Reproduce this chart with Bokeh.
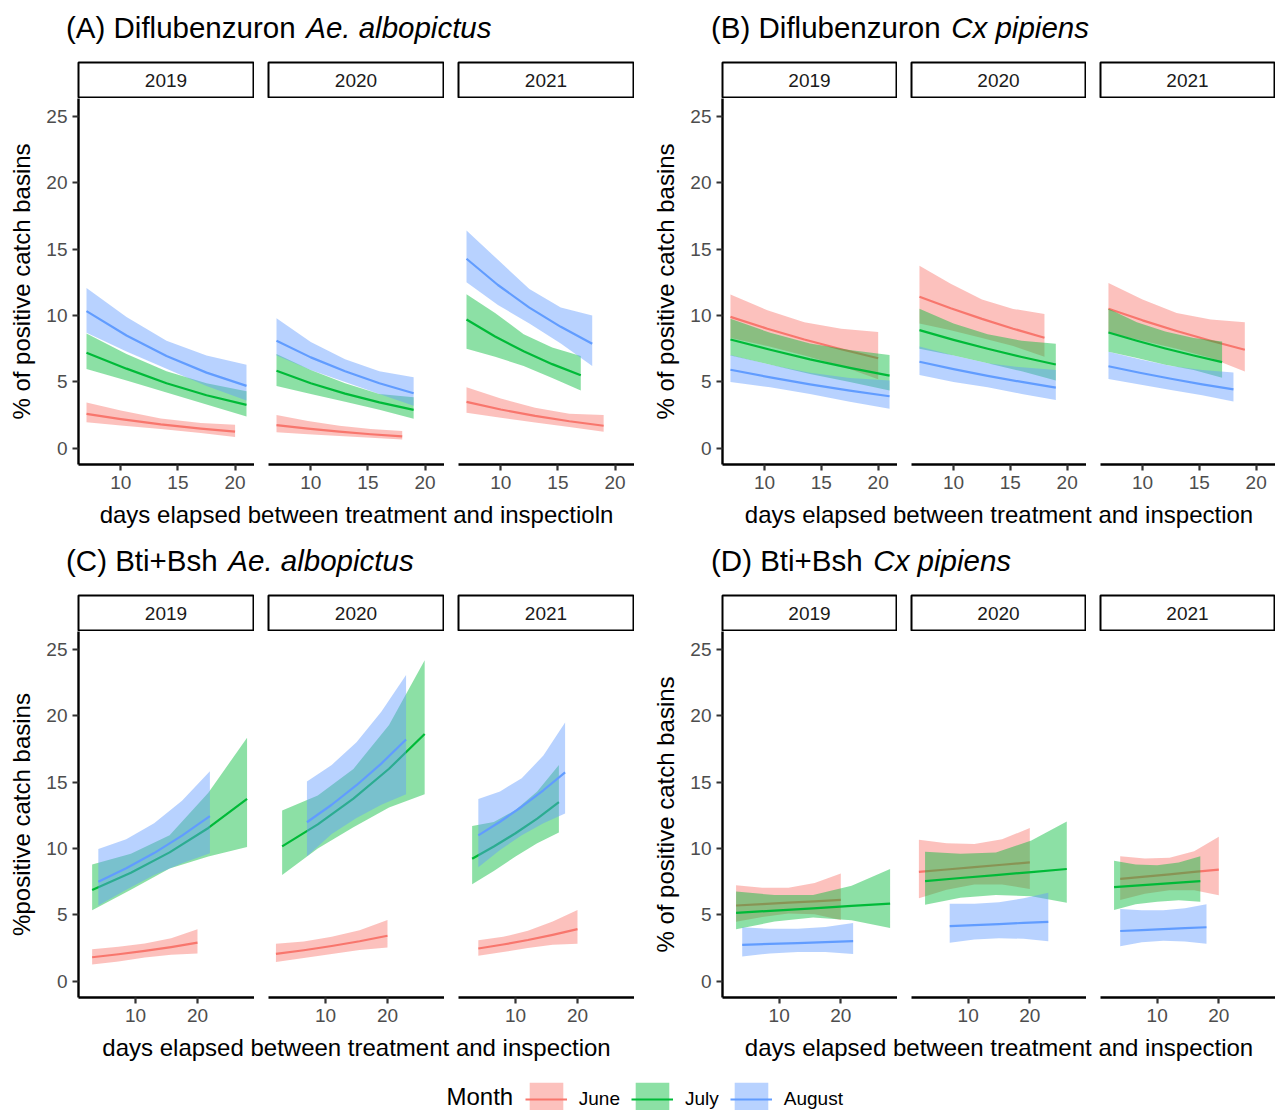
import numpy as np
from bokeh.plotting import figure
from bokeh.models import Range1d, Label, Legend, LegendItem, FixedTicker
from bokeh.layouts import row, column
from bokeh.embed import file_html
from bokeh.resources import INLINE

FONT = "Liberation Sans"
years = ["2019", "2020", "2021"]
months = ["June", "July", "August"]
month_colors = ["#F8766D", "#00BA38", "#619CFF"]
y_ticks = [0, 5, 10, 15, 20, 25]

# ---------------- Panel A: Diflubenzuron, Ae. albopictus ----------------
A_june_x = [[7, 10, 13.5, 17, 20], [7, 9.75, 12.5, 15.25, 18], [7, 10, 13, 16, 19]]
A_june_fit = [[2.6, 2.2, 1.8, 1.48, 1.25], [1.74, 1.48, 1.25, 1.06, 0.9], [3.5, 2.92, 2.44, 2.04, 1.7]]
A_june_lo = [[1.97, 1.72, 1.45, 1.15, 0.86], [1.2, 1.05, 0.92, 0.8, 0.67], [2.67, 2.3, 1.95, 1.6, 1.25]]
A_june_hi = [[3.45, 2.85, 2.25, 1.9, 1.77], [2.5, 2.05, 1.7, 1.45, 1.3], [4.6, 3.75, 3.05, 2.6, 2.5]]
A_july_x = [[7, 10.5, 14, 17.5, 21], [7, 10, 13, 16, 19], [7, 9.5, 12, 14.5, 17]]
A_july_fit = [[7.2, 6.0, 4.9, 4.0, 3.27], [5.84, 4.9, 4.12, 3.46, 2.9], [9.7, 8.42, 7.31, 6.34, 5.5]]
A_july_lo = [[5.97, 5.1, 4.2, 3.3, 2.4], [4.7, 4.1, 3.5, 2.9, 2.23], [7.5, 6.9, 6.2, 5.3, 4.36]]
A_july_hi = [[8.65, 7.1, 5.8, 4.9, 4.3], [7.1, 5.9, 4.9, 4.1, 3.85], [11.6, 10.2, 8.6, 7.6, 6.95]]
A_aug_x = [[7, 10.5, 14, 17.5, 21], [7, 10, 13, 16, 19], [7, 9.75, 12.5, 15.25, 18]]
A_aug_fit = [[10.33, 8.5, 6.95, 5.7, 4.7], [8.1, 6.85, 5.8, 4.9, 4.15], [14.28, 12.3, 10.6, 9.15, 7.87]]
A_aug_lo = [[8.7, 7.3, 6.0, 4.7, 3.6], [7.0, 5.9, 5.0, 4.1, 3.2], [12.5, 10.8, 9.4, 7.9, 6.2]]
A_aug_hi = [[12.07, 9.9, 8.1, 7.0, 6.3], [9.8, 8.0, 6.7, 5.8, 5.35], [16.4, 14.2, 12.0, 10.6, 10.0]]

# ---------------- Panel B: Diflubenzuron, Cx pipiens ----------------
B_june_x = [[7, 10.25, 13.5, 16.75, 20], [7, 9.75, 12.5, 15.25, 18], [7, 10, 13, 16, 19]]
B_june_fit = [[9.9, 9.01, 8.2, 7.46, 6.78], [11.42, 10.55, 9.75, 9.01, 8.33], [10.51, 9.64, 8.84, 8.1, 7.42]]
B_june_lo = [[8.3, 7.7, 7.0, 6.2, 5.2], [9.4, 8.9, 8.3, 7.7, 6.9], [8.7, 8.1, 7.5, 6.8, 5.79]]
B_june_hi = [[11.58, 10.4, 9.5, 9.0, 8.77], [13.76, 12.4, 11.2, 10.5, 10.12], [12.46, 11.2, 10.2, 9.7, 9.5]]
B_july_x = [[7, 10.5, 14, 17.5, 21], [7, 10, 13, 16, 19], [7, 9.5, 12, 14.5, 17]]
B_july_fit = [[8.2, 7.42, 6.7, 6.06, 5.48], [8.9, 8.17, 7.5, 6.88, 6.31], [8.72, 8.1, 7.52, 6.99, 6.49]]
B_july_lo = [[7.0, 6.3, 5.6, 5.0, 4.36], [7.5, 7.0, 6.4, 5.8, 5.1], [7.27, 6.8, 6.3, 5.9, 5.32]]
B_july_hi = [[9.76, 8.7, 7.9, 7.4, 7.03], [10.51, 9.4, 8.6, 8.1, 7.87], [10.51, 9.5, 8.8, 8.3, 8.05]]
B_aug_x = [[7, 10.5, 14, 17.5, 21], [7, 10, 13, 16, 19], [7, 9.75, 12.5, 15.25, 18]]
B_aug_fit = [[5.92, 5.34, 4.82, 4.35, 3.92], [6.52, 5.97, 5.46, 5.0, 4.57], [6.18, 5.69, 5.24, 4.82, 4.44]]
B_aug_lo = [[5.0, 4.6, 4.1, 3.5, 2.98], [5.53, 5.0, 4.6, 4.1, 3.63], [5.22, 4.8, 4.4, 4.0, 3.53]]
B_aug_hi = [[7.03, 6.3, 5.7, 5.3, 5.1], [7.66, 7.0, 6.4, 6.1, 5.9], [7.27, 6.7, 6.2, 5.9, 5.71]]

# ---------------- Panel C: Bti+Bsh, Ae. albopictus ----------------
C_june_x = [[3, 7.25, 11.5, 15.75, 20], [2, 6.5, 11, 15.5, 20], [4, 8, 12, 16, 20]]
C_june_fit = [[1.81, 2.04, 2.29, 2.58, 2.91], [2.06, 2.34, 2.66, 3.02, 3.43], [2.47, 2.77, 3.11, 3.5, 3.93]]
C_june_lo = [[1.26, 1.5, 1.8, 2.0, 2.09], [1.46, 1.75, 2.05, 2.35, 2.55], [1.92, 2.2, 2.5, 2.75, 2.83]]
C_june_hi = [[2.42, 2.6, 2.85, 3.25, 3.93], [2.83, 3.0, 3.35, 3.85, 4.62], [3.1, 3.35, 3.8, 4.5, 5.38]]
C_july_x = [[3, 9.25, 15.5, 21.75, 28], [3, 8.75, 14.5, 20.25, 26], [3, 6.5, 10, 13.5, 17]]
C_july_fit = [[6.87, 8.17, 9.71, 11.55, 13.74], [10.16, 11.82, 13.76, 16.01, 18.63], [9.23, 10.15, 11.15, 12.26, 13.49]]
C_july_lo = [[5.36, 6.9, 8.5, 9.4, 10.11], [8.0, 10.0, 11.6, 13.1, 14.09], [7.31, 8.3, 9.4, 10.4, 11.21]]
C_july_hi = [[8.79, 9.6, 11.0, 14.2, 18.35], [12.86, 14.0, 16.0, 19.3, 24.18], [11.7, 12.0, 12.9, 14.3, 16.29]]
C_aug_x = [[4, 8.5, 13, 17.5, 22], [7, 11, 15, 19, 23], [4, 7.5, 11, 14.5, 18]]
C_aug_fit = [[7.5, 8.51, 9.66, 10.97, 12.45], [11.98, 13.3, 14.77, 16.4, 18.21], [10.99, 12.02, 13.15, 14.39, 15.74]]
C_aug_lo = [[5.71, 6.9, 8.0, 8.9, 9.64], [9.42, 11.1, 12.3, 13.3, 14.09], [8.6, 9.9, 11.0, 11.9, 12.64]]
C_aug_hi = [[9.97, 10.7, 11.9, 13.6, 15.82], [15.05, 16.3, 18.0, 20.3, 23.08], [13.74, 14.3, 15.3, 17.0, 19.5]]

# ---------------- Panel D: Bti+Bsh, Cx pipiens ----------------
D_june_x = [[3, 7.25, 11.5, 15.75, 20], [2, 6.5, 11, 15.5, 20], [4, 8, 12, 16, 20]]
D_june_fit = [[5.71, 5.81, 5.92, 6.02, 6.13], [8.24, 8.42, 8.6, 8.78, 8.96], [7.72, 7.89, 8.06, 8.24, 8.41]]
D_june_lo = [[4.48, 4.85, 5.1, 5.05, 4.62], [6.26, 6.9, 7.3, 7.3, 6.95], [6.13, 6.6, 6.85, 6.85, 6.48]]
D_june_hi = [[7.23, 7.05, 7.05, 7.4, 8.13], [10.66, 10.4, 10.35, 10.7, 11.54], [9.42, 9.25, 9.3, 9.8, 10.88]]
D_july_x = [[3, 9.25, 15.5, 21.75, 28], [3, 8.75, 14.5, 20.25, 26], [3, 6.5, 10, 13.5, 17]]
D_july_fit = [[5.16, 5.33, 5.5, 5.68, 5.85], [7.55, 7.78, 8.0, 8.23, 8.46], [7.09, 7.2, 7.32, 7.43, 7.55]]
D_july_lo = [[3.93, 4.5, 4.8, 4.6, 4.01], [5.77, 6.3, 6.5, 6.4, 5.91], [5.38, 5.8, 6.0, 6.1, 5.99]]
D_july_hi = [[6.76, 6.5, 6.5, 7.2, 8.46], [9.75, 9.6, 9.7, 10.6, 12.03], [9.09, 8.8, 8.75, 8.95, 9.42]]
D_aug_x = [[4, 8.5, 13, 17.5, 22], [7, 11, 15, 19, 23], [4, 7.5, 11, 14.5, 18]]
D_aug_fit = [[2.75, 2.82, 2.88, 2.95, 3.02], [4.15, 4.23, 4.31, 4.4, 4.48], [3.79, 3.86, 3.93, 4.0, 4.07]]
D_aug_lo = [[1.87, 2.1, 2.2, 2.2, 2.06], [2.91, 3.15, 3.25, 3.2, 3.02], [2.64, 2.95, 3.05, 3.0, 2.83]]
D_aug_hi = [[4.07, 3.95, 3.95, 4.1, 4.4], [5.85, 5.85, 5.95, 6.25, 6.68], [5.44, 5.35, 5.35, 5.5, 5.8]]

# ---------------- layout / style constants ----------------
Y_RANGE = (-1.22, 26.35)
RIBBON_ALPHA = 0.45
LINE_W = 2.2
FACET_H = 366
FACET_BOTTOM = 36
STRIP_H = 37
TITLE_SIZE = 29.5
AXIS_TITLE_SIZE = 24
BASELINE_FIX = 0.32   # offset (in em) applied to alphabetic labels


def blank_fig(w, h):
    p = figure(width=w, height=h, x_range=Range1d(0, w), y_range=Range1d(0, h),
               x_axis_location=None, y_axis_location=None, toolbar_location=None,
               output_backend="svg", min_border=0, outline_line_color=None)
    p.grid.visible = False
    return p


def style_axis(ax, ticks):
    ax.ticker = FixedTicker(ticks=ticks)
    ax.axis_line_color = "black"
    ax.axis_line_width = 2.4
    ax.major_tick_line_color = "#333333"
    ax.major_tick_line_width = 2.2
    ax.major_tick_out = 6
    ax.major_tick_in = 0
    ax.minor_tick_out = 0
    ax.minor_tick_in = 0
    ax.major_label_text_font = FONT
    ax.major_label_text_font_size = "19px"
    ax.major_label_text_color = "#4D4D4D"
    ax.major_label_standoff = 5


def make_panel(spec):
    lb, fw, gap = spec["lb"], spec["fw"], spec["gap"]
    panel_w = lb + 3 * fw + 2 * gap

    th = spec["title_h"]
    tf = blank_fig(panel_w, th)
    ty = th - spec["title_base"] + BASELINE_FIX * TITLE_SIZE
    tx = spec["title_x"]
    tf.add_layout(Label(x=tx, y=ty, text=spec["title_norm"], text_font=FONT,
                        text_font_size=f"{TITLE_SIZE}px", text_color="black",
                        text_baseline="alphabetic"))
    tf.add_layout(Label(x=tx + spec["title_norm_em"] * TITLE_SIZE + 2.5, y=ty,
                        text=spec["title_ital"], text_font=FONT,
                        text_font_size=f"{TITLE_SIZE}px", text_font_style="italic",
                        text_color="black", text_baseline="alphabetic"))

    strips, facets = [], []
    for i, yr in enumerate(years):
        left = lb if i == 0 else gap
        s = figure(width=left + fw, height=STRIP_H, x_range=Range1d(0, 1), y_range=Range1d(0, 1),
                   x_axis_location=None, y_axis_location=None, toolbar_location=None,
                   output_backend="svg", min_border_left=left, min_border_right=1,
                   min_border_top=1, min_border_bottom=1,
                   outline_line_color="black", outline_line_width=2)
        s.grid.visible = False
        s.add_layout(Label(x=0.5, y=0.5, text=yr, text_align="center", text_baseline="middle",
                           text_font=FONT, text_font_size="19px", text_color="#1A1A1A"))
        strips.append(s)

        p = figure(width=left + fw, height=FACET_H + FACET_BOTTOM,
                   x_range=Range1d(*spec["xr"]), y_range=Range1d(*Y_RANGE),
                   y_axis_location="left" if i == 0 else None,
                   toolbar_location=None, output_backend="svg",
                   min_border_left=left, min_border_right=0, min_border_top=0,
                   min_border_bottom=FACET_BOTTOM, outline_line_color=None)
        p.grid.visible = False
        style_axis(p.xaxis[0], spec["xticks"])
        if i == 0:
            ya = p.yaxis[0]
            style_axis(ya, y_ticks)
            ya.axis_label = spec["ylabel"]
            ya.axis_label_text_font = FONT
            ya.axis_label_text_font_size = f"{AXIS_TITLE_SIZE}px"
            ya.axis_label_text_font_style = "normal"
            ya.axis_label_text_color = "black"
            ya.axis_label_standoff = 8
        for m, c in zip(months, month_colors):
            xs, fit, lo, hi = spec["data"][m]
            p.varea(x=xs[i], y1=lo[i], y2=hi[i], fill_color=c, fill_alpha=RIBBON_ALPHA)
            p.line(x=xs[i], y=fit[i], line_color=c, line_width=LINE_W, line_join="round")
        facets.append(p)

    xh = spec["xlab_h"]
    xf = blank_fig(panel_w, xh)
    xf.add_layout(Label(x=lb + (3 * fw + 2 * gap) / 2,
                        y=xh - 22 + BASELINE_FIX * AXIS_TITLE_SIZE,
                        text=spec["xlabel"], text_align="center", text_baseline="alphabetic",
                        text_font=FONT, text_font_size=f"{AXIS_TITLE_SIZE}px", text_color="black"))

    return column(tf, row(*strips), row(*facets), xf)


specs = [
    dict(lb=78, fw=176, gap=14, title_h=61, title_base=36.7, title_x=65.5,
         title_norm="(A) Diflubenzuron ", title_norm_em=8.058, title_ital="Ae. albopictus",
         ylabel="% of positive catch basins",
         xlabel="days elapsed between treatment and inspectioln", xr=(6.3, 21.7), xticks=[10, 15, 20],
         xlab_h=30,
         data={"June": (A_june_x, A_june_fit, A_june_lo, A_june_hi),
               "July": (A_july_x, A_july_fit, A_july_lo, A_july_hi),
               "August": (A_aug_x, A_aug_fit, A_aug_lo, A_aug_hi)}),
    dict(lb=88, fw=175, gap=14, title_h=61, title_base=36.7, title_x=76.5,
         title_norm="(B) Diflubenzuron ", title_norm_em=8.058, title_ital="Cx pipiens",
         ylabel="% of positive catch basins",
         xlabel="days elapsed between treatment and inspection", xr=(6.3, 21.7), xticks=[10, 15, 20],
         xlab_h=30,
         data={"June": (B_june_x, B_june_fit, B_june_lo, B_june_hi),
               "July": (B_july_x, B_july_fit, B_july_lo, B_july_hi),
               "August": (B_aug_x, B_aug_fit, B_aug_lo, B_aug_hi)}),
    dict(lb=78, fw=176, gap=14, title_h=64, title_base=39.7, title_x=65.5,
         title_norm="(C) Bti+Bsh ", title_norm_em=5.418, title_ital="Ae. albopictus",
         ylabel="%positive catch basins",
         xlabel="days elapsed between treatment and inspection", xr=(0.8, 29.2), xticks=[10, 20],
         xlab_h=30,
         data={"June": (C_june_x, C_june_fit, C_june_lo, C_june_hi),
               "July": (C_july_x, C_july_fit, C_july_lo, C_july_hi),
               "August": (C_aug_x, C_aug_fit, C_aug_lo, C_aug_hi)}),
    dict(lb=88, fw=175, gap=14, title_h=64, title_base=39.7, title_x=76.5,
         title_norm="(D) Bti+Bsh ", title_norm_em=5.418, title_ital="Cx pipiens",
         ylabel="% of positive catch basins",
         xlabel="days elapsed between treatment and inspection", xr=(0.8, 29.2), xticks=[10, 20],
         xlab_h=30,
         data={"June": (D_june_x, D_june_fit, D_june_lo, D_june_hi),
               "July": (D_july_x, D_july_fit, D_july_lo, D_july_hi),
               "August": (D_aug_x, D_aug_fit, D_aug_lo, D_aug_hi)}),
]

panels = [make_panel(s) for s in specs]

# legend strip at the bottom
LEG_W, LEG_H = 1275, 47
lf = blank_fig(LEG_W, LEG_H)
items = []
for m, c in zip(months, month_colors):
    va = lf.varea(x=np.array([np.nan]), y1=np.array([np.nan]), y2=np.array([np.nan]),
                  fill_color=c, fill_alpha=RIBBON_ALPHA)
    ln = lf.line(x=np.array([np.nan]), y=np.array([np.nan]), line_color=c, line_width=LINE_W)
    items.append(LegendItem(label=m, renderers=[va, ln]))
legend = Legend(items=items, orientation="horizontal", location=(524.8, -9.8),
                glyph_width=42, glyph_height=42, label_standoff=12, spacing=11,
                padding=0, margin=0, border_line_color=None, background_fill_alpha=0,
                label_text_font=FONT, label_text_font_size="19px", label_text_color="black")
lf.add_layout(legend)
lf.add_layout(Label(x=446, y=6 + BASELINE_FIX * 24, text="Month", text_font=FONT,
                    text_font_size="24px", text_color="black", text_baseline="alphabetic"))

root = column(row(panels[0], panels[1]), row(panels[2], panels[3]), lf)

with open("out.html", "w") as f:
    f.write(file_html(root, INLINE))
